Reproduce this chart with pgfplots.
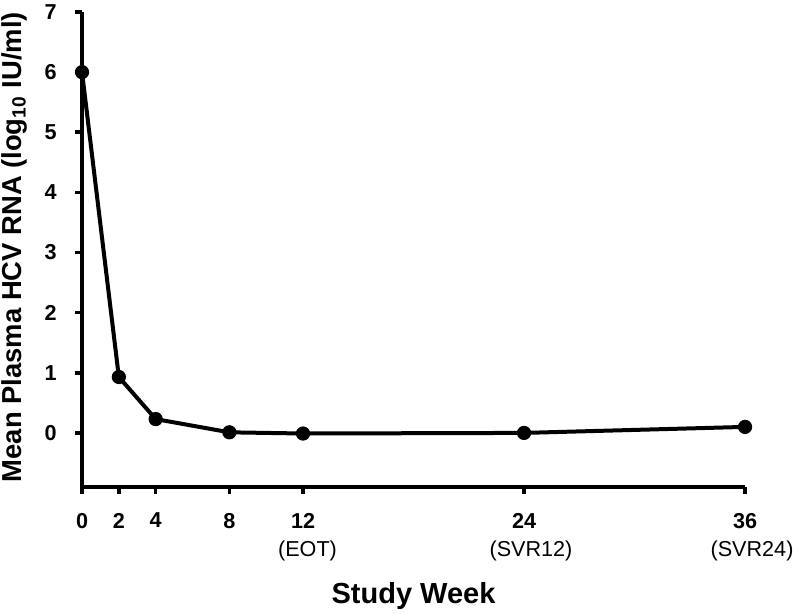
\documentclass[border=0pt]{standalone}
\usepackage{fontspec}
\setmainfont{Liberation Sans}
\usepackage{pgfplots}
\pgfplotsset{compat=1.18}

\begin{document}
\begin{tikzpicture}
\begin{axis}[
  scale only axis,
  width=331.5pt, height=237.5pt,
  xmin=0, xmax=36, ymin=-0.9, ymax=7,
  axis lines=left,
  axis line style={-, line width=2.3pt},
  tick align=outside,
  major tick length=3.5pt,
  tick style={line width=1.8pt, black},
  xtick={0,2,4,8,12,24,36},
  xticklabels={{\textbf{0}}, {\textbf{2}}, {\textbf{4}}, {\textbf{8}},
    {\textbf{12}\\\hspace*{4.5pt}(EOT)},
    {\textbf{24}\\\hspace*{7pt}(SVR12)},
    {\textbf{36}\\\hspace*{7pt}(SVR24)}},
  x tick label style={font=\fontsize{10.8}{14}\selectfont, align=center,
    anchor=north, yshift=-6pt},
  ytick={0,1,2,3,4,5,6,7},
  yticklabels={{\textbf{0}\hspace*{5.6pt}}, {\textbf{1}\hspace*{5.6pt}},
    {\textbf{2}\hspace*{5.6pt}}, {\textbf{3}\hspace*{5.6pt}},
    {\textbf{4}\hspace*{5.6pt}}, {\textbf{5}\hspace*{5.6pt}},
    {\textbf{6}\hspace*{5.6pt}}, {\textbf{7}\hspace*{5.6pt}}},
  y tick label style={font=\fontsize{10.8}{13}\selectfont, anchor=east},
  xlabel={\textbf{Study Week}},
  xlabel style={font=\fontsize{14.5}{16}\selectfont,
    at={(axis description cs:0.5,-0.23)}, anchor=center},
  ylabel={\textbf{Mean Plasma HCV RNA (log\textsubscript{10} IU/ml)}},
  ylabel style={font=\fontsize{13.7}{15}\selectfont,
    at={(axis description cs:-0.102,0.505)}, anchor=center},
  clip=false,
]
\addplot[black, line width=2pt, mark=*, mark size=3.3pt,
  mark options={line width=0.5pt}] coordinates {
  (0, 6.0)
  (2, 0.93)
  (4, 0.23)
  (8, 0.01)
  (12, -0.01)
  (24, 0.0)
  (36, 0.10)
};
\coordinate (bl) at (rel axis cs:-0.1237,-0.2653);
\coordinate (tr) at (rel axis cs:1.0829,1.0253);
\end{axis}
\pgfresetboundingbox
\path (bl) rectangle (tr);
\end{tikzpicture}
\end{document}
